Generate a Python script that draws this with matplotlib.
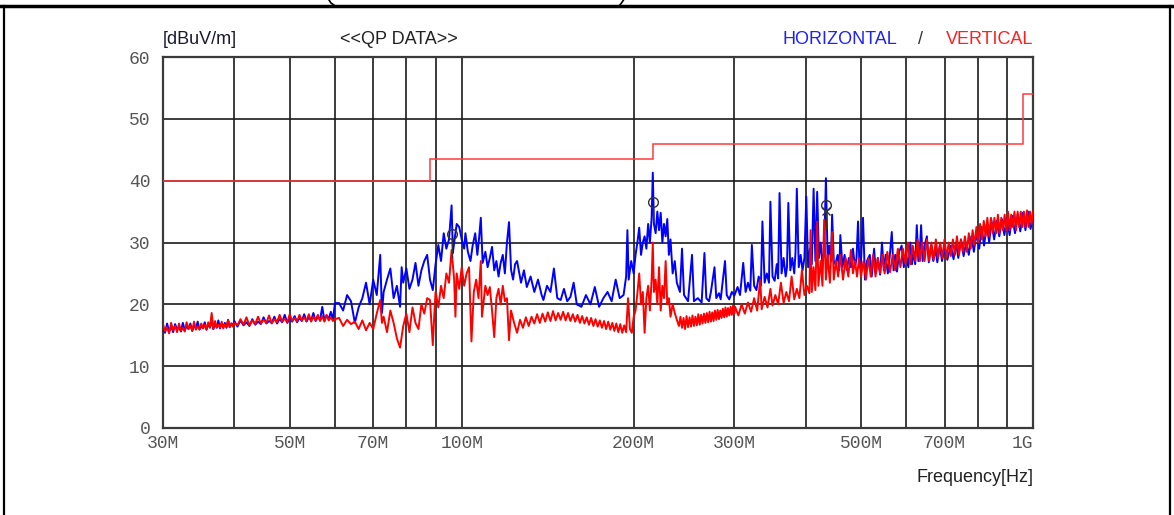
import matplotlib
matplotlib.use("Agg")
import matplotlib.pyplot as plt
from matplotlib.lines import Line2D

# ---------------- data ----------------
# sweep frequencies (MHz) and levels (dBuV/m)
low_freq_1 = [30, 30.25, 30.5, 30.75, 31, 31.25, 31.5, 31.75, 32, 32.25,
              32.5, 32.75, 33, 33.25, 33.5, 33.75, 34, 34.25, 34.5, 34.75,
              35, 35.25, 35.5, 35.75, 36, 36.25, 36.5, 36.75, 37, 37.25,
              37.5, 37.75, 38, 38.25, 38.5, 38.75, 39, 39.25, 39.5, 39.75, 40]
low_freq_2 = [40.5, 41, 41.5, 42, 42.5, 43, 43.5, 44, 44.5, 45,
              45.5, 46, 46.5, 47, 47.5, 48, 48.5, 49, 49.5, 50,
              50.5, 51, 51.5, 52, 52.5, 53, 53.5, 54, 54.5, 55,
              55.5, 56, 56.5, 57, 57.5, 58, 58.5, 59, 59.5, 60]
h_low_1 = [16.2, 15.4, 16.9, 15.6, 16.4, 15.5, 16.8, 15.9, 16.3, 15.6,
           17.0, 15.8, 16.5, 16.0, 16.9, 15.7, 16.6, 16.1, 17.2, 15.9,
           16.4, 16.2, 17.1, 15.9, 16.7, 16.3, 17.3, 16.0, 16.8, 16.2,
           17.4, 16.1, 16.9, 16.4, 17.0, 16.2, 17.5, 16.3, 16.9, 16.6, 17.3]
h_low_2 = [16.4, 17.4, 16.6, 17.1, 16.5, 17.6, 16.7, 17.2, 16.8, 17.9,
           16.9, 17.3, 17.0, 18.0, 16.9, 17.6, 17.1, 18.3, 17.0, 17.7,
           17.2, 18.1, 17.1, 17.8, 17.3, 18.4, 17.2, 17.9, 17.4, 18.6,
           17.3, 18.0, 17.5, 19.6, 17.4, 18.2, 17.6, 18.8, 17.5, 20.2]
v_low_1 = [16.8, 15.6, 16.3, 15.3, 17.0, 15.8, 16.5, 15.5, 16.9, 15.7,
           16.2, 15.6, 17.1, 16.0, 16.6, 15.7, 17.2, 15.9, 16.4, 16.0,
           16.9, 16.1, 16.7, 15.9, 17.1, 16.2, 18.6, 16.0, 17.3, 16.3,
           16.7, 16.2, 17.2, 16.1, 16.8, 16.4, 17.4, 16.3, 16.9, 16.4, 17.0]
v_low_2 = [16.6, 17.6, 16.7, 17.9, 16.6, 17.4, 16.8, 18.0, 16.9, 17.5,
           17.0, 18.2, 16.9, 17.6, 17.1, 18.3, 17.2, 17.7, 17.1, 18.4,
           17.3, 17.8, 17.2, 18.3, 17.4, 17.9, 17.3, 18.4, 17.2, 18.0,
           17.4, 18.3, 17.3, 18.1, 17.2, 18.3, 17.4, 17.9, 17.3, 17.6]

h_freq_b = [61, 62, 63, 64, 65, 66, 67, 68, 69, 70,
            71, 72, 72.5, 73, 74, 75, 76, 77, 78, 78.5,
            79, 80, 81, 82, 83, 84, 85, 86, 87, 88,
            89, 89.5, 90, 91, 92, 93, 94, 95, 96, 96.5,
            97, 98, 99, 100]
h_level_b = [20.2, 19.0, 21.5, 20.5, 17.0, 19.5, 21.0, 23.5, 20.0, 24.0,
             21.5, 28.0, 18.6, 22.0, 24.0, 25.8, 21.0, 23.0, 19.6, 26.0,
             23.5, 25.8, 22.5, 24.0, 26.7, 23.0, 25.5, 27.0, 28.0, 24.0,
             22.3, 24.4, 26.5, 29.6, 27.0, 31.5, 29.0, 30.5, 36.0, 28.3,
             30.0, 33.0, 32.5, 30.5]
v_freq_b = [61, 62, 63, 64, 65, 66, 67, 68, 69, 70,
            71, 72, 72.5, 73, 74, 75, 76, 77, 78, 79,
            80, 81, 82, 83, 84, 85, 86, 87, 88, 89,
            89.5, 90, 91, 92, 93, 94, 95, 96, 97, 97.5,
            98, 99, 100]
v_level_b = [17.8, 16.5, 17.5, 16.8, 17.2, 16.0, 17.4, 15.8, 17.0, 16.0,
             18.5, 20.7, 17.0, 18.0, 15.5, 19.0, 17.0, 14.5, 13.0, 16.5,
             18.5, 15.5, 19.5, 17.0, 16.0, 20.0, 18.5, 21.0, 20.7, 13.4,
             18.0, 22.0, 19.5, 23.0, 21.0, 25.0, 23.5, 28.8, 24.0, 18.0,
             25.0, 22.5, 26.0]

h_freq_c = [101, 101.5, 102.5, 103.6, 104.5, 105.6, 106.5, 107.2, 108, 108.8,
            110, 111, 112, 113, 114, 115, 116, 117, 118, 119,
            120, 121, 122, 123, 124, 125, 127, 128.5, 130, 132,
            134, 136, 138, 139, 141, 143, 145, 147, 149, 151,
            153, 155, 157, 159, 162, 165, 168, 171, 174, 177,
            180, 183, 186, 189, 192, 194, 195, 196, 198, 200]
h_level_c = [29.0, 31.5, 28.5, 27.0, 29.5, 31.5, 28.0, 30.5, 34.0, 26.7,
             28.5, 26.0, 27.5, 29.3, 25.5, 27.0, 24.5, 26.7, 28.0, 25.0,
             30.0, 33.3, 25.6, 24.0, 26.5, 27.0, 23.5, 25.5, 22.8, 24.5,
             22.0, 24.0, 21.5, 20.7, 23.0, 22.0, 25.8, 21.0, 20.7, 22.5,
             20.5, 21.2, 23.5, 20.0, 19.6, 21.5, 20.0, 22.8, 19.6, 21.0,
             22.0, 20.5, 24.0, 21.0, 21.5, 24.5, 32.0, 24.0, 27.0, 25.0]
v_freq_c1 = [101, 102, 103, 103.5, 104, 105, 106, 107, 108, 108.5,
             110, 111, 112, 113, 114, 115, 116, 117, 118, 119,
             120, 121]
v_level_c1 = [23.0, 25.0, 26.0, 20.0, 14.0, 22.0, 24.0, 21.0, 27.0, 18.0,
              23.0, 21.5, 22.8, 19.0, 14.7, 21.0, 22.5, 20.0, 23.0, 20.5,
              21.0, 14.2]
v_freq_c2 = [122, 123.5, 125, 126.5, 128, 129.5, 131, 132.5, 134, 135.5,
             137, 138.5, 140, 141.5, 143, 144.5, 146, 147.5, 149, 150.5,
             152, 153.5, 155, 156.5, 158, 159.5, 161, 162.5, 164, 165.5,
             167, 168.5, 170, 171.5, 173, 174.5, 176, 177.5, 179, 180.5,
             182, 183.5, 185, 186.5, 188, 189.5, 191, 192.5, 194, 195.5,
             197, 198.5, 200]
v_level_c2 = [19.0, 17.0, 15.4, 17.5, 16.2, 17.9, 16.5, 18.0, 16.9, 18.4,
              17.0, 18.5, 17.2, 18.7, 17.3, 18.9, 17.4, 18.6, 17.5, 18.8,
              17.4, 18.6, 17.3, 18.4, 17.2, 18.3, 17.0, 18.1, 16.9, 17.9,
              16.7, 17.8, 16.5, 17.6, 16.4, 17.4, 16.2, 17.3, 16.0, 17.2,
              15.9, 17.0, 15.7, 16.9, 15.5, 16.8, 15.4, 16.6, 15.5, 21.0,
              16.0, 15.4, 18.0]

mid_freq = [201.5, 203, 204.5, 206, 207.5, 209, 210.5, 212, 213.5, 215,
            216, 217, 218.5, 220, 221.5, 223, 224.5, 226, 227.5, 229,
            230.5, 232, 234, 236, 238, 241, 243, 245, 249, 253,
            255, 259, 263, 266, 268, 271, 273, 277, 279, 282,
            284, 289, 291, 294, 297, 300]
h_level_d = [28.0, 30.0, 32.4, 28.0, 30.0, 31.0, 29.0, 33.0, 30.0, 34.0,
             41.3, 33.0, 31.5, 35.0, 32.0, 34.8, 30.0, 33.0, 31.0, 33.8,
             28.0, 30.5, 25.0, 27.0, 23.5, 22.0, 29.0, 21.5, 20.5, 28.0,
             20.5, 21.0, 20.3, 28.3, 21.0, 20.5, 22.0, 26.0, 21.0, 21.8,
             20.8, 27.0, 21.5, 20.8, 22.0, 21.4]
v_freq_d1 = [201.5, 203, 204.5, 206, 207.5, 209, 210.5, 212, 213.5, 215,
             216, 217, 218.5, 220, 221.5, 223, 224.5, 226, 227.5, 229,
             230.5, 232, 234, 236, 238]
v_level_d1 = [19.0, 21.8, 25.0, 20.0, 22.0, 15.4, 21.0, 23.0, 19.0, 24.0,
              30.0, 22.0, 24.0, 20.0, 26.0, 19.0, 23.0, 21.0, 27.0, 20.0,
              21.0, 18.0, 20.0, 18.6, 17.5]
v_freq_d2 = [240, 241.5, 243, 244.5, 246, 247.5, 249, 250.5, 252, 253.5,
             255, 256.5, 258, 259.5, 261, 262.5, 264, 265.5, 267, 268.5,
             270, 271.5, 273, 274.5, 276, 277.5, 279, 280.5, 282, 283.5,
             285, 286.5, 288, 289.5, 291, 292.5, 294, 295.5, 297, 298.5, 300]
v_level_d2 = [16.5, 18.0, 16.2, 17.8, 16.0, 18.1, 16.3, 17.9, 16.4, 18.2,
              16.5, 18.0, 16.6, 18.4, 16.7, 18.3, 16.9, 18.5, 17.0, 18.6,
              17.1, 18.8, 17.2, 18.7, 17.3, 19.0, 17.5, 19.1, 17.6, 19.0,
              17.8, 19.3, 17.9, 19.5, 18.0, 19.4, 18.2, 19.6, 18.3, 19.8, 18.5]

h_freq_e = [304, 307, 311, 314, 317, 320, 322, 325, 328, 331,
            334, 336, 339, 342, 345, 347, 350, 353, 356, 358,
            360, 363, 366, 369, 371, 373, 376, 379, 382, 384,
            386, 389, 392, 395, 398, 401, 404, 407, 410, 413,
            416, 419, 422, 425, 428, 431, 434, 437, 440, 443,
            445, 448, 451, 455, 458, 460, 464, 468, 472, 476,
            480, 484, 488, 491, 494, 497, 500]
h_level_e = [22.8, 21.5, 26.7, 22.0, 23.5, 22.2, 29.6, 23.0, 22.3, 24.5,
             23.0, 33.4, 23.5, 25.0, 23.5, 36.6, 24.5, 23.8, 26.5, 24.2,
             38.0, 25.0, 27.5, 24.5, 26.0, 36.4, 25.5, 27.5, 25.0, 28.5,
             38.7, 26.0, 28.0, 25.5, 27.5, 37.4, 26.0, 29.0, 26.5, 38.7,
             27.0, 38.2, 27.5, 30.0, 26.5, 28.5, 40.4, 27.5, 29.5, 27.0,
             34.5, 27.0, 26.5, 28.0, 25.5, 31.2, 26.0, 28.0, 25.5, 27.5,
             26.0, 29.0, 26.0, 27.5, 33.4, 26.0, 27.0]
v_freq_e = [301, 305, 309, 313, 317, 321, 325, 329, 333, 335,
            339, 343, 347, 350, 354, 358, 362, 366, 370, 374,
            378, 382, 386, 390, 394, 398, 402, 406, 408, 410,
            413, 416, 419, 421, 425, 428, 431, 434, 437, 441,
            445, 448, 452, 456, 460, 465, 470, 475, 480, 484,
            488, 492, 496, 500]
v_level_e = [19.6, 18.2, 20.0, 18.5, 20.3, 18.8, 21.0, 19.0, 24.0, 19.2,
             21.2, 19.5, 22.5, 19.8, 21.5, 20.0, 23.5, 20.2, 22.0, 20.5,
             24.5, 20.8, 22.5, 21.0, 25.5, 21.5, 23.0, 21.8, 32.0, 22.0,
             26.0, 22.3, 33.4, 23.0, 27.0, 23.0, 33.7, 24.0, 28.0, 23.5,
             31.7, 24.0, 27.0, 24.5, 28.0, 24.0, 27.5, 24.5, 28.8, 25.0,
             27.0, 24.5, 27.5, 24.5]

h_freq_f = [504, 508, 512, 518, 522, 527, 531, 535, 540, 544,
            548, 552, 557, 561, 566, 570, 574, 578, 583, 589,
            594, 600, 605, 610, 614, 618, 622, 626, 630, 634,
            637, 641, 646, 652, 657, 663, 669, 675, 680, 687,
            693, 700, 708, 718, 726, 733, 740, 748, 756, 764,
            772, 780, 788, 796, 805, 813, 821, 830, 838, 846,
            855, 864, 873, 882, 891, 900, 910, 920, 930, 940,
            950, 960, 970, 980, 990, 1000]
h_level_f = [34.0, 24.0, 27.0, 28.0, 24.5, 29.0, 25.0, 27.5, 24.8, 30.0,
             25.5, 28.0, 25.0, 27.5, 31.7, 25.5, 28.0, 25.3, 28.5, 29.5,
             26.0, 28.0, 26.0, 30.0, 26.5, 28.5, 26.5, 32.8, 27.0, 29.0,
             32.8, 27.0, 29.5, 31.0, 26.8, 29.5, 27.0, 29.0, 26.8, 29.5,
             27.0, 29.0, 27.2, 29.5, 27.3, 30.0, 27.5, 30.5, 27.8, 30.0,
             28.0, 31.0, 28.5, 31.5, 29.0, 32.5, 29.5, 33.0, 30.0, 33.5,
             30.5, 33.5, 31.0, 33.8, 31.2, 34.0, 31.2, 34.3, 31.5, 34.5,
             31.8, 34.8, 32.0, 35.0, 32.2, 34.0]
v_freq_f = [505, 510, 515, 520, 525, 530, 535, 540, 545, 550,
            556, 562, 568, 574, 580, 586, 592, 598, 604, 610,
            616, 622, 628, 634, 640, 646, 652, 658, 664, 670,
            676, 682, 688, 694, 700, 706, 712, 718, 724, 730,
            736, 742, 748, 754, 760, 766, 772, 778, 784, 790,
            796, 802, 808, 814, 820, 826, 832, 838, 844, 850,
            856, 862, 868, 874, 880, 886, 892, 898, 904, 910,
            916, 922, 928, 934, 940, 946, 952, 958, 964, 970,
            976, 982, 988, 994, 1000]
v_level_f = [27.0, 24.0, 27.5, 24.5, 28.0, 24.5, 27.5, 25.0, 28.0, 25.0,
             28.5, 25.2, 28.0, 25.5, 29.0, 26.0, 29.0, 26.5, 30.0, 26.5,
             29.5, 27.0, 30.5, 27.0, 30.0, 27.0, 30.5, 27.0, 30.0, 27.2,
             30.5, 27.5, 30.0, 27.5, 30.5, 27.5, 30.0, 27.8, 30.5, 28.0,
             31.0, 28.0, 30.5, 28.5, 31.0, 28.5, 31.5, 29.0, 32.0, 29.5,
             32.5, 30.0, 33.0, 30.5, 33.5, 31.0, 34.0, 31.0, 34.0, 31.5,
             34.0, 31.5, 34.5, 31.5, 34.0, 32.0, 34.5, 32.0, 35.0, 32.0,
             34.5, 32.5, 35.0, 32.0, 35.0, 32.5, 35.0, 32.5, 35.0, 32.5,
             35.2, 32.5, 35.0, 33.0, 35.0]

# limit line (FCC class B style)
limit_edges = [30, 88, 216, 960, 1000]
limit_levels = [40, 43.5, 46, 54]

# QP markers
marker_freq = [96, 216, 434]
marker_level = [31.3, 36.6, 36.1]
marker_stem_low = [27.5, 33.3, 32.0]
vmarker_freq = [434]
vmarker_level = [35.1]

x_tick_values = [30, 40, 50, 60, 70, 80, 90, 100, 200, 300, 400, 500, 600, 700, 800, 900, 1000]
x_tick_labels = {30: "30M", 50: "50M", 70: "70M", 100: "100M", 200: "200M",
                 300: "300M", 500: "500M", 700: "700M", 1000: "1G"}
y_tick_values = [0, 10, 20, 30, 40, 50, 60]

# ---------------- assemble ----------------
h_freq = low_freq_1 + low_freq_2 + h_freq_b + h_freq_c + mid_freq + h_freq_e + h_freq_f
h_level = h_low_1 + h_low_2 + h_level_b + h_level_c + h_level_d + h_level_e + h_level_f
v_freq = (low_freq_1 + low_freq_2 + v_freq_b + v_freq_c1 + v_freq_c2 + v_freq_d1
          + v_freq_d2 + v_freq_e + v_freq_f)
v_level = (v_low_1 + v_low_2 + v_level_b + v_level_c1 + v_level_c2 + v_level_d1
           + v_level_d2 + v_level_e + v_level_f)
assert len(h_freq) == len(h_level), (len(h_freq), len(h_level))
assert len(v_freq) == len(v_level), (len(v_freq), len(v_level))

# ---------------- figure ----------------
W, H = 1174, 515
fig = plt.figure(figsize=(W / 100, H / 100), dpi=100)
ax = fig.add_axes([163 / W, 1 - 428 / H, (1033 - 163) / W, (428 - 57) / H])

ax.set_xscale("log")
ax.set_xlim(30, 1000)
ax.set_ylim(0, 60)

ax.plot(h_freq, h_level, color="#0000ff", lw=1.4, zorder=3)
ax.plot(v_freq, v_level, color="#ff0000", lw=1.4, zorder=4)
ax.stairs(limit_levels, limit_edges, baseline=None, color="#ff3b3b", lw=1.1, zorder=5)

ax.vlines(marker_freq, marker_stem_low, [m - 0.8 for m in marker_level],
          color="#333333", lw=1.0, zorder=6)
ax.plot(marker_freq, marker_level, "o", ms=7, mfc="none", mec="#333333", mew=1.0, zorder=7)
ax.plot(vmarker_freq, vmarker_level, "x", ms=6, color="#333333", mew=1.0, zorder=7)

ax.set_xticks(x_tick_values)
ax.set_xticks([], minor=True)
ax.set_xticklabels([x_tick_labels.get(v, "") for v in x_tick_values])
ax.set_yticks(y_tick_values)
ax.set_yticklabels([str(v) for v in y_tick_values])
ax.tick_params(axis="both", which="both", length=0)
ax.tick_params(axis="x", pad=5)
ax.tick_params(axis="y", pad=9)
for lab in ax.get_xticklabels() + ax.get_yticklabels():
    lab.set_fontfamily("Liberation Mono")
    lab.set_fontsize(13)
    lab.set_color("#555555")
labels = ax.get_xticklabels()
labels[-1].set_horizontalalignment("right")

ax.grid(True, which="major", color="#1a1a1a", lw=1.2)
ax.set_axisbelow(True)
for sp in ax.spines.values():
    sp.set_color("#3a3a3a")
    sp.set_linewidth(1.6)

# header texts
sans = "Liberation Sans"
fs = 13
ty = 1 - 39 / H
fig.text(163 / W, ty, "[dBuV/m]", family=sans, fontsize=fs, color="#1a1a2e", va="center", ha="left")
fig.text(340 / W, ty, "<<QP DATA>>", family=sans, fontsize=fs, color="#222222", va="center", ha="left")
fig.text(783 / W, ty, "HORIZONTAL", family=sans, fontsize=fs, color="#1f1fff", va="center", ha="left")
fig.text(921 / W, ty, "/", family=sans, fontsize=fs, color="#333333", va="center", ha="center")
fig.text(1033 / W, ty, "VERTICAL", family=sans, fontsize=fs, color="#ff1f1f", va="center", ha="right")
fig.text(1034 / W, 1 - 477 / H, "Frequency[Hz]", family=sans, fontsize=fs, color="#222222",
         va="center", ha="right")

# page frame and bracket fragments
def px(x, y):
    return x / W, 1 - y / H

frame = [
    ([0, W], [5.5, 5.5], 2.5),
    ([4, 4], [5.5, H], 1.6),
    ([1170, 1170], [5.5, H], 1.6),
    ([329, 331, 334.5], [0, 3, 5.5], 1.2),
    ([623.5, 621.5, 619.5], [0, 3, 5.5], 1.2),
]
for xs, ys, lw in frame:
    pts = [px(a, b) for a, b in zip(xs, ys)]
    fig.add_artist(Line2D([p[0] for p in pts], [p[1] for p in pts],
                          transform=fig.transFigure, color="black", lw=lw))

fig.savefig("out.png", dpi=100)
